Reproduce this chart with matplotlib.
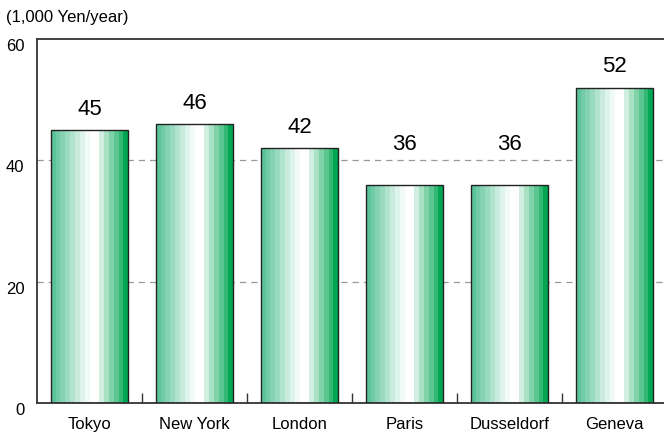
import matplotlib.pyplot as plt
import matplotlib.transforms as mtransforms
from matplotlib.colors import to_rgb

plt.rcParams['font.family'] = ['Liberation Sans', 'DejaVu Sans']

cities = ['Tokyo', 'New York', 'London', 'Paris', 'Dusseldorf', 'Geneva']
cost = [45, 46, 42, 36, 36, 52]
yticks = [0, 20, 40, 60]

# stripe shading across each bar: mid green -> white -> deep green
left_c = to_rgb('#5cc49a')
right_c = to_rgb('#00a651')


def mix(c, t):
    # t=0 gives c, t=1 gives white
    return tuple(ci + (1 - ci) * t for ci in c)


stripes = [mix(left_c, t) for t in (0.0, 0.12, 0.25, 0.38, 0.52, 0.66, 0.8, 0.92)]
stripes += ['white', 'white']
stripes += [mix(right_c, t) for t in (0.82, 0.66, 0.5, 0.36, 0.2, 0.0)]

fig = plt.figure(figsize=(6.64, 4.36), dpi=100)
ax = fig.add_axes([37 / 664, 33 / 436, 630 / 664, 364 / 436])

bar_w = 0.74
sw = bar_w / len(stripes)
for i, v in enumerate(cost):
    x0 = i - bar_w / 2
    for k, c in enumerate(stripes):
        ax.bar(x0 + k * sw, v, width=sw * 1.02, align='edge', color=c,
               linewidth=0, zorder=2)
    ax.bar(i, v, width=bar_w, fill=False, edgecolor='#222222',
           linewidth=1.0, zorder=3)
    # keep the label clear of the 40 gridline
    ly = v if v > 40 else 39.2
    ax.text(i, ly + 1.7, str(v), ha='center', va='bottom', fontsize=16,
            color='black', zorder=4)

ax.set_xlim(-0.5, len(cities) - 0.5)
ax.set_ylim(0, 60)
ax.set_xticks(range(len(cities)))
ax.set_xticklabels(cities, fontsize=12)
ax.set_xticks([i + 0.5 for i in range(len(cities) - 1)], minor=True)
ax.tick_params(axis='x', which='major', length=0, pad=10)
ax.tick_params(axis='x', which='minor', direction='in', length=7,
               width=1.0, color='#333333')

ax.set_yticks(yticks)
ax.set_yticklabels([str(t) for t in yticks], fontsize=12)
ax.tick_params(axis='y', length=0, pad=9)
offset = mtransforms.ScaledTranslation(0, -6 / 100, fig.dpi_scale_trans)
for lab in ax.get_yticklabels():
    lab.set_transform(lab.get_transform() + offset)

for g in (20, 40):
    ax.axhline(g, color='#999999', linewidth=0.9, linestyle=(0, (5, 4)),
               zorder=1)

for s in ('left', 'top', 'bottom'):
    ax.spines[s].set_color('#333333')
    ax.spines[s].set_linewidth(1.3)
ax.spines['right'].set_visible(False)

fig.text(6 / 664, 1 - 22 / 436, '(1,000 Yen/year)', fontsize=12,
         ha='left', va='baseline')

fig.savefig('out.png', dpi=100)
